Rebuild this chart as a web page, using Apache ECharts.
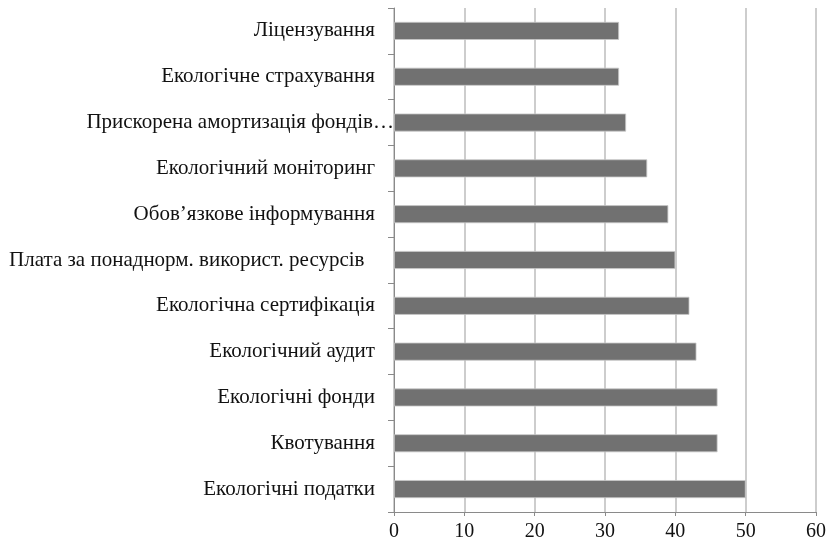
<!DOCTYPE html>
<html><head><meta charset="utf-8">
<script src="https://cdn.jsdelivr.net/npm/echarts@6/dist/echarts.min.js"></script>
<style>html,body{margin:0;padding:0;background:#fff}#c{width:827px;height:541px}</style>
</head><body><div id="c"></div>
<script>
const categories = [
  "Екологічні податки",
  "Квотування",
  "Екологічні фонди",
  "Екологічний аудит",
  "Екологічна сертифікація",
  "Плата за понаднорм. використ. ресурсів  ",
  "Обов’язкове інформування",
  "Екологічний моніторинг",
  "Прискорена амортизація фондів…",
  "Екологічне страхування",
  "Ліцензування"
];
const values = [50, 46, 46, 43, 42, 40, 39, 36, 33, 32, 32];
const xTicks = {min: 0, max: 60, interval: 10};

const catData = categories.map(function (c) {
  if (c.slice(-1) === '…') {
    return {value: c, textStyle: {padding: [0, -19, 0, 0]}};
  }
  return c;
});

const chart = echarts.init(document.getElementById('c'), null, {renderer: 'canvas'});
chart.setOption({
  animation: false,
  backgroundColor: '#ffffff',
  textStyle: {fontFamily: 'Liberation Serif'},
  grid: {left: 394, right: 11, top: 8, bottom: 29, containLabel: false, outerBoundsMode: 'none'},
  xAxis: {
    type: 'value', min: xTicks.min, max: xTicks.max, interval: xTicks.interval,
    axisLine: {show: true, lineStyle: {color: '#8a8a8a', width: 1}},
    axisTick: {show: true, length: 4, lineStyle: {color: '#8a8a8a'}},
    splitLine: {show: true, lineStyle: {color: '#bdbdbd', width: 1.5}},
    axisLabel: {color: '#111', fontSize: 20, fontFamily: 'Liberation Serif', margin: 10}
  },
  yAxis: {
    type: 'category', data: catData,
    axisLine: {show: true, lineStyle: {color: '#8a8a8a', width: 1}},
    axisTick: {show: true, length: 6, inside: false, alignWithLabel: false, lineStyle: {color: '#8a8a8a'}},
    axisLabel: {color: '#111', fontSize: 21, fontFamily: 'Liberation Serif', margin: 19}
  },
  series: [{
    type: 'bar', data: values, barWidth: 18,
    itemStyle: {color: '#717171', borderColor: '#c8c8c8', borderWidth: 0.8}
  }]
});
</script></body></html>
